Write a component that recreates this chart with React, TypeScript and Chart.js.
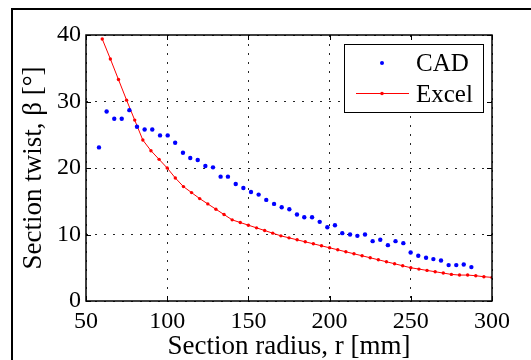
import React, { useEffect, useRef } from "react";
import { Chart, registerables } from "chart.js";

Chart.register(...registerables);

// CAD data (blue dots)
const cadRadius = [
  58.0, 62.7, 67.4, 72.0, 76.7, 81.4, 86.1, 90.8, 95.6, 100.3,
  104.9, 109.7, 114.2, 118.8, 123.5, 128.2, 132.9, 137.4, 142.2, 146.9,
  151.6, 156.3, 161.0, 165.8, 170.5, 175.2, 179.9, 184.4, 189.2, 193.9,
  198.6, 203.3, 207.8, 212.6, 217.1, 221.8, 226.5, 231.2, 235.9, 240.6,
  245.4, 249.9, 254.6, 259.4, 263.9, 268.6, 273.3, 278.0, 282.6, 287.3,
];
const cadTwist = [
  23.1, 28.5, 27.4, 27.4, 28.7, 26.2, 25.8, 25.8, 24.9, 24.9,
  23.8, 22.3, 21.5, 21.2, 20.3, 20.1, 18.7, 18.7, 17.6, 17.0,
  16.4, 16.0, 15.2, 14.6, 14.1, 13.8, 13.0, 12.6, 12.6, 11.9,
  11.1, 11.4, 10.2, 10.0, 9.8, 10.0, 9.0, 9.2, 8.4, 9.0,
  8.7, 7.3, 6.8, 6.5, 6.3, 6.1, 5.4, 5.4, 5.5, 5.1,
];

// Excel data (red line with dots)
const excelRadius = [
  60, 65, 70, 75, 80, 85, 90, 95, 100, 105,
  110, 115, 120, 125, 130, 135, 140, 145, 150, 155,
  160, 165, 170, 175, 180, 185, 190, 195, 200, 205,
  210, 215, 220, 225, 230, 235, 240, 245, 250, 255,
  260, 265, 270, 275, 280, 285, 290, 295, 300,
];
const excelTwist = [
  39.4, 36.4, 33.3, 30.2, 27.2, 24.2, 22.6, 21.3, 20.0, 18.5,
  17.2, 16.3, 15.4, 14.6, 13.8, 13.0, 12.2, 11.8, 11.4, 11.0,
  10.6, 10.2, 9.8, 9.5, 9.2, 8.9, 8.6, 8.3, 8.0, 7.7,
  7.4, 7.1, 6.8, 6.5, 6.2, 5.9, 5.6, 5.3, 5.0, 4.8,
  4.6, 4.4, 4.2, 4.0, 3.9, 3.9, 3.8, 3.65, 3.55,
];

const xTicks = [50, 100, 150, 200, 250, 300];
const yTicks = [0, 10, 20, 30, 40];
const legendLabels = ["CAD", "Excel"];
const xTitle = "Section radius, r [mm]";
const yTitle = "Section twist, β [°]";

const FONT = "'Liberation Serif', 'Times New Roman', serif";

const framePlugin = {
  id: "framePlugin",
  beforeDraw(chart: any) {
    const ctx = chart.ctx;
    ctx.save();
    ctx.fillStyle = "#ffffff";
    ctx.fillRect(0, 0, chart.width, chart.height);
    ctx.strokeStyle = "#000";
    ctx.lineWidth = 2;
    ctx.strokeRect(12, 9, chart.width + 50, chart.height + 50);
    ctx.restore();
  },
  afterDatasetsDraw(chart: any) {
    const ctx = chart.ctx;
    const { left, right, top, bottom } = chart.chartArea;
    const xs = chart.scales.x;
    const ys = chart.scales.y;
    ctx.save();
    ctx.strokeStyle = "#000";
    ctx.lineWidth = 1.5;
    ctx.strokeRect(left, top, right - left, bottom - top);
    ctx.lineWidth = 1;
    const tl = 5;
    ctx.beginPath();
    xTicks.forEach((v) => {
      const p = Math.round(xs.getPixelForValue(v)) + 0.5;
      ctx.moveTo(p, bottom);
      ctx.lineTo(p, bottom - tl);
      ctx.moveTo(p, top);
      ctx.lineTo(p, top + tl);
    });
    yTicks.forEach((v) => {
      const p = Math.round(ys.getPixelForValue(v)) + 0.5;
      ctx.moveTo(left, p);
      ctx.lineTo(left + tl, p);
      ctx.moveTo(right, p);
      ctx.lineTo(right - tl, p);
    });
    ctx.stroke();

    // legend
    const lx = 344.5, ly = 44.5, lw = 139, lh = 68;
    ctx.fillStyle = "#fff";
    ctx.fillRect(lx, ly, lw, lh);
    ctx.strokeStyle = "#000";
    ctx.lineWidth = 1;
    ctx.strokeRect(lx, ly, lw, lh);
    ctx.fillStyle = "#0000ff";
    ctx.beginPath();
    ctx.arc(382, 63, 2, 0, Math.PI * 2);
    ctx.fill();
    ctx.strokeStyle = "#ff0000";
    ctx.beginPath();
    ctx.moveTo(356, 93.5);
    ctx.lineTo(409, 93.5);
    ctx.stroke();
    ctx.fillStyle = "#ff0000";
    ctx.beginPath();
    ctx.arc(382, 93.5, 1.8, 0, Math.PI * 2);
    ctx.fill();
    ctx.fillStyle = "#000";
    ctx.font = `25px ${FONT}`;
    ctx.textBaseline = "middle";
    ctx.textAlign = "left";
    ctx.fillText(legendLabels[0], 416, 64);
    ctx.fillText(legendLabels[1], 416, 95);
    ctx.restore();
  },
};

export default function App() {
  const ref = useRef<HTMLCanvasElement | null>(null);
  useEffect(() => {
    if (!ref.current) return;
    const chart = new Chart(ref.current, {
      type: "scatter",
      data: {
        datasets: [
          {
            label: legendLabels[0],
            data: cadRadius.map((x, i) => ({ x, y: cadTwist[i] })),
            showLine: false,
            pointRadius: 2.2,
            pointBackgroundColor: "#0000ff",
            pointBorderWidth: 0,
            borderColor: "#0000ff",
          },
          {
            label: legendLabels[1],
            data: excelRadius.map((x, i) => ({ x, y: excelTwist[i] })),
            showLine: true,
            borderColor: "#ff0000",
            borderWidth: 1,
            pointRadius: 1.7,
            pointBackgroundColor: "#ff0000",
            pointBorderWidth: 0,
          },
        ],
      },
      options: {
        animation: false,
        responsive: false,
        devicePixelRatio: 1,
        layout: { padding: { top: 35, right: 39, left: 0, bottom: 0 } },
        plugins: {
          legend: { display: false },
          tooltip: { enabled: false },
        },
        scales: {
          x: {
            type: "linear",
            min: 50,
            max: 300,
            afterFit: (s: any) => {
              s.height = 59;
            },
            afterBuildTicks: (s: any) => {
              s.ticks = xTicks.map((v) => ({ value: v }));
            },
            ticks: {
              color: "#000",
              padding: 6,
              font: { family: FONT, size: 24 },
              maxRotation: 0,
            },
            grid: {
              color: "rgba(0,0,0,0.85)",
              lineWidth: 1,
              drawTicks: false,
            },
            border: { display: false, dash: [2, 7] },
            title: {
              display: true,
              text: xTitle,
              color: "#000",
              font: { family: FONT, size: 27, lineHeight: 1 },
              padding: { top: 0, bottom: 0 },
            },
          },
          y: {
            type: "linear",
            min: 0,
            max: 40,
            afterFit: (s: any) => {
              s.width = 86;
            },
            afterBuildTicks: (s: any) => {
              s.ticks = yTicks.map((v) => ({ value: v }));
            },
            ticks: {
              color: "#000",
              padding: 5,
              font: { family: FONT, size: 24 },
            },
            grid: {
              color: "rgba(0,0,0,0.85)",
              lineWidth: 1,
              drawTicks: false,
            },
            border: { display: false, dash: [2, 7] },
            title: {
              display: true,
              text: yTitle,
              color: "#000",
              font: { family: FONT, size: 27, lineHeight: 1 },
              padding: { top: 20, bottom: 0 },
            },
          },
        },
      },
      plugins: [framePlugin],
    });
    return () => chart.destroy();
  }, []);
  return (
    <div style={{ position: "fixed", left: 0, top: 0, width: 531, height: 360 }}>
      <canvas ref={ref} width={531} height={360} style={{ display: "block" }} />
    </div>
  );
}
